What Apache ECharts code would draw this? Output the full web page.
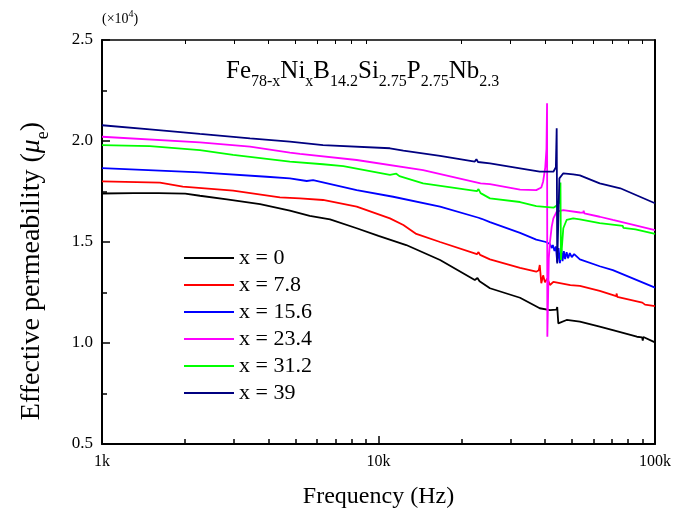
<!DOCTYPE html>
<html>
<head>
<meta charset="utf-8">
<script src="https://cdn.jsdelivr.net/npm/echarts@6/dist/echarts.min.js"></script>
<style>
    html, body { margin: 0; padding: 0; background: #fff; }
    #chart { width: 684px; height: 517px; }
</style>
</head>
<body>
<div id="chart"></div>
<script>
// 图例名称
var legendNames = ['x = 0', 'x = 7.8', 'x = 15.6', 'x = 23.4', 'x = 31.2', 'x = 39'];
var lineColors = ['#000000', '#ff0000', '#0000ff', '#ff00ff', '#00ff00', '#000080'];

// 频率(Hz), 有效磁导率(×10^4)
var permX0 = [[1000,1.740],[1300,1.742],[1600,1.742],[2000,1.739],[2260,1.729],[2830,1.711],[3730,1.688],[4780,1.655],[5640,1.629],[6680,1.612],[8340,1.568],[10000,1.530],[12600,1.485],[16700,1.411],[22300,1.312],[22800,1.322],[23200,1.306],[25300,1.271],[32500,1.224],[38300,1.172],[41700,1.163],[44000,1.165],[44300,1.178],[44700,1.097],[47900,1.114],[53500,1.106],[63100,1.081],[70400,1.064],[86000,1.031],[89800,1.028],[90300,1.012],[90800,1.030],[100000,1.003]];
var permX78 = [[1000,1.800],[1620,1.794],[1960,1.774],[2980,1.754],[4400,1.721],[5200,1.716],[6300,1.708],[8340,1.675],[11000,1.617],[12300,1.584],[13700,1.540],[16700,1.500],[22700,1.440],[23000,1.450],[23300,1.436],[25300,1.414],[32500,1.372],[37200,1.353],[38000,1.360],[38300,1.386],[38800,1.296],[39400,1.335],[40000,1.300],[40800,1.320],[41700,1.287],[42900,1.303],[49400,1.287],[53500,1.283],[63100,1.258],[72400,1.232],[72700,1.245],[73000,1.228],[90000,1.200],[92000,1.190],[100000,1.183]];
var permX156 = [[1000,1.866],[2260,1.845],[3940,1.823],[4780,1.815],[5500,1.802],[5800,1.806],[8340,1.757],[11300,1.724],[16700,1.675],[23000,1.620],[23300,1.628],[23600,1.615],[25300,1.598],[32500,1.545],[37200,1.512],[40300,1.500],[41700,1.490],[42300,1.470],[42700,1.485],[43300,1.455],[43800,1.478],[44300,1.400],[44800,1.470],[45300,1.395],[45800,1.465],[46300,1.405],[46800,1.455],[47300,1.415],[47900,1.450],[48500,1.420],[49200,1.445],[50000,1.425],[51000,1.440],[53500,1.414],[63100,1.380],[70400,1.361],[100000,1.274]];
var permX234 = [[1000,2.021],[2260,1.993],[3430,1.972],[4780,1.942],[5200,1.936],[8340,1.906],[14500,1.856],[23400,1.790],[25300,1.786],[32500,1.759],[37200,1.757],[38800,1.770],[39400,1.800],[40100,1.870],[40500,1.960],[40700,2.187],[40800,1.031],[41300,1.420],[41700,1.500],[42300,1.575],[42900,1.617],[44100,1.650],[46600,1.658],[53500,1.646],[55000,1.645],[55200,1.655],[55500,1.642],[63100,1.625],[70400,1.609],[100000,1.559]];
var permX312 = [[1000,1.980],[1490,1.975],[2260,1.955],[2980,1.931],[4780,1.898],[6300,1.885],[7460,1.876],[11000,1.832],[11600,1.838],[11900,1.826],[14500,1.790],[22700,1.752],[23000,1.762],[23400,1.742],[25300,1.716],[32500,1.698],[37200,1.678],[42900,1.670],[44100,1.680],[45300,1.700],[45500,1.795],[45700,1.411],[46200,1.500],[46600,1.568],[47900,1.609],[50600,1.617],[53500,1.612],[63100,1.593],[76500,1.580],[76800,1.570],[85000,1.562],[85300,1.568],[85600,1.556],[100000,1.540]];
var permX39 = [[1000,2.078],[1490,2.058],[2260,2.035],[3430,2.013],[4780,1.997],[6300,1.980],[11000,1.964],[12300,1.952],[16700,1.926],[22300,1.898],[22600,1.910],[22900,1.896],[25300,1.889],[32500,1.865],[38300,1.848],[42900,1.848],[43800,1.870],[44100,2.063],[44300,1.394],[44700,1.394],[45100,1.815],[46600,1.840],[50600,1.835],[53500,1.830],[63100,1.790],[74900,1.766],[100000,1.692]];

// 坐标轴刻度
var xMajorTicks = [1000, 10000, 100000];
var xMinorTicks = [2000, 3000, 4000, 5000, 6000, 7000, 8000, 9000, 20000, 30000, 40000, 50000, 60000, 70000, 80000, 90000];

var allData = [permX0, permX78, permX156, permX234, permX312, permX39];
var serif = 'Liberation Serif';

var page = {
    init: function () {
        var myChart = echarts.init(document.getElementById('chart'));
        var series = [];
        for (var i = 0; i < allData.length; i++) {
            series.push({
                name: legendNames[i],
                type: 'line',
                data: allData[i],
                symbol: 'none',
                lineStyle: { color: lineColors[i], width: 1.8 },
                itemStyle: { color: lineColors[i] }
            });
        }
        // 刻度线样式
        var tickLine = { color: '#000', width: 1.5 };
        var option = {
            animation: false,
            title: [{
                text: '(×10{s|4})',
                left: 97, top: 4,
                textStyle: {
                    fontFamily: serif, fontSize: 14, fontWeight: 'normal', color: '#000', lineHeight: 20,
                    rich: { s: { fontFamily: serif, fontSize: 10, verticalAlign: 'top', lineHeight: 20 } }
                }
            }, {
                text: 'Fe{b|78-x}Ni{b|x}B{b|14.2}Si{b|2.75}P{b|2.75}Nb{b|2.3}',
                left: 221, top: 47,
                textStyle: {
                    fontFamily: serif, fontSize: 25, fontWeight: 'normal', color: '#000', lineHeight: 30,
                    rich: { b: { fontFamily: serif, fontSize: 16, verticalAlign: 'bottom', lineHeight: 38 } }
                }
            }],
            legend: {
                orient: 'vertical',
                left: 179, top: 242,
                icon: 'rect',
                itemWidth: 50, itemHeight: 2, itemGap: 5,
                textStyle: { fontFamily: serif, fontSize: 22, color: '#000', lineHeight: 22 },
                data: legendNames
            },
            grid: { left: 102, right: 29, top: 40, bottom: 73 },
            xAxis: [{
                type: 'log', logBase: 10, min: 1000, max: 100000,
                name: 'Frequency (Hz)', nameLocation: 'middle', nameGap: 41,
                nameTextStyle: { fontFamily: serif, fontSize: 24, color: '#000' },
                axisLine: { lineStyle: { color: '#000', width: 2 } },
                axisTick: { inside: true, length: 8, customValues: xMajorTicks, lineStyle: tickLine },
                axisLabel: {
                    fontFamily: serif, fontSize: 16, color: '#000', margin: 10,
                    customValues: xMajorTicks,
                    formatter: function (v) { return (v / 1000) + 'k'; }
                },
                splitLine: { show: false }
            }, {
                type: 'log', logBase: 10, min: 1000, max: 100000, position: 'bottom',
                axisLine: { show: false },
                axisTick: { inside: true, length: 5, customValues: xMinorTicks, lineStyle: tickLine },
                axisLabel: { show: false },
                splitLine: { show: false }
            }, {
                type: 'log', logBase: 10, min: 1000, max: 100000, position: 'top',
                axisLine: { lineStyle: { color: '#000', width: 1.5 } },
                axisTick: { inside: true, length: 4, customValues: xMinorTicks, lineStyle: { color: '#000', width: 1 } },
                axisLabel: { show: false },
                splitLine: { show: false }
            }],
            yAxis: [{
                type: 'value', min: 0.5, max: 2.5, interval: 0.5,
                name: 'Effective permeability ({mu|μ}{e|e})', nameLocation: 'middle', nameGap: 50,
                nameTextStyle: {
                    fontFamily: serif, fontSize: 28, color: '#000', lineHeight: 32,
                    padding: [0, 58, 0, 0],
                    rich: {
                        mu: { fontFamily: serif, fontSize: 28, fontStyle: 'italic', lineHeight: 32 },
                        e: { fontFamily: serif, fontSize: 18, verticalAlign: 'bottom', lineHeight: 40 }
                    }
                },
                axisLine: { show: true, lineStyle: { color: '#000', width: 2 } },
                axisTick: { inside: true, length: 8, lineStyle: tickLine },
                minorTick: { show: true, splitNumber: 2, length: 5, lineStyle: tickLine },
                axisLabel: {
                    fontFamily: serif, fontSize: 17, color: '#000', margin: 9,
                    formatter: function (v) { return v.toFixed(1); }
                },
                splitLine: { show: false }
            }, {
                type: 'value', min: 0.5, max: 2.5, interval: 0.5, position: 'right',
                axisLine: { show: true, lineStyle: { color: '#000', width: 2 } },
                axisTick: { show: false },
                axisLabel: { show: false },
                splitLine: { show: false }
            }],
            series: series
        };
        myChart.setOption(option);
    }
};

page.init();
</script>
</body>
</html>
